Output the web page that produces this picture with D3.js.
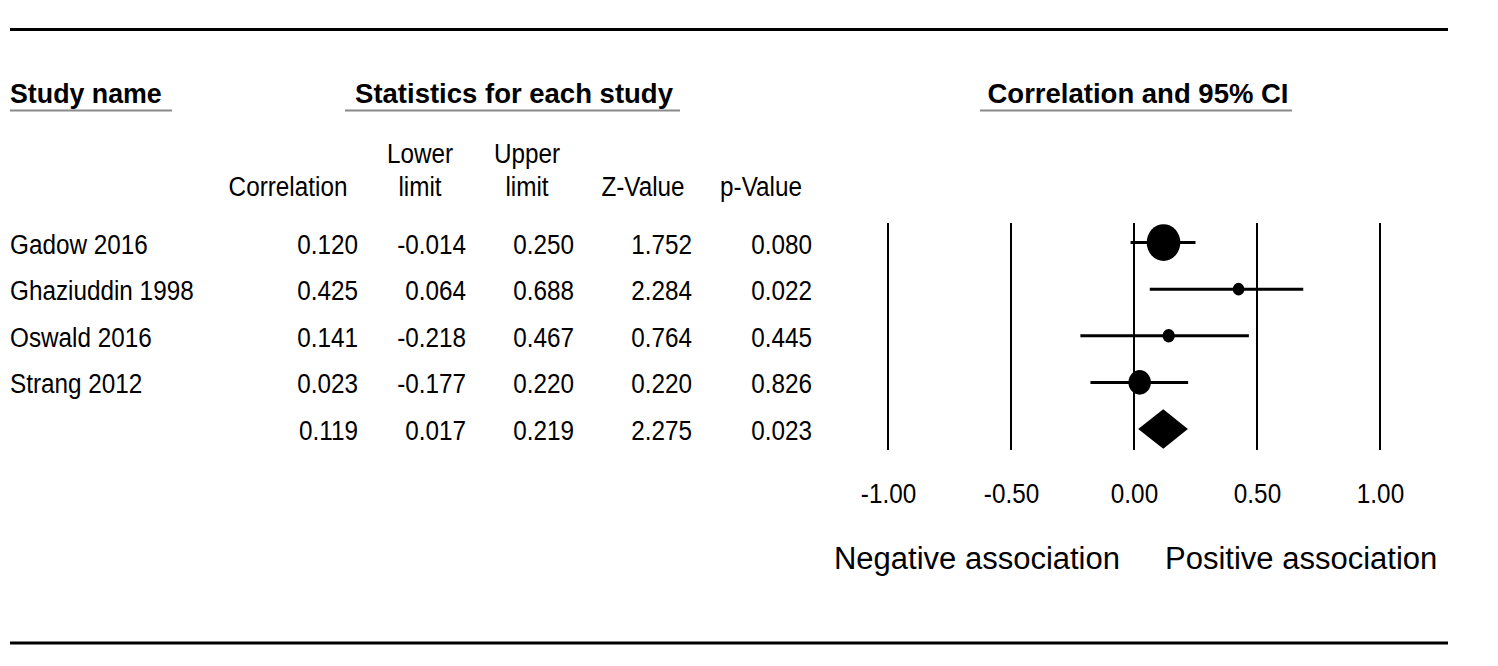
<!DOCTYPE html>
<html>
<head>
<meta charset="utf-8">
<script src="https://cdn.jsdelivr.net/npm/d3@7"></script>
<style>
  html, body { margin: 0; padding: 0; background: #fff; }
  svg { display: block; }
  text { font-family: "Liberation Sans", Arial, sans-serif; fill: #000; }
</style>
</head>
<body>
<svg id="chart" width="1498" height="666"></svg>
<script>
// ---- data ----
const studies = ["Gadow 2016", "Ghaziuddin 1998", "Oswald 2016", "Strang 2012"];
const correlation = [0.120, 0.425, 0.141, 0.023];
const lowerLimit = [-0.014, 0.064, -0.218, -0.177];
const upperLimit = [0.250, 0.688, 0.467, 0.220];
const zValue = [1.752, 2.284, 0.764, 0.220];
const pValue = [0.080, 0.022, 0.445, 0.826];
const weights = [58.8, 7.0, 8.0, 26.2];           // relative weight (%)
const summaryStats = [0.119, 0.017, 0.219, 2.275, 0.023]; // corr, lower, upper, z, p
const axisTicks = [-1.00, -0.50, 0.00, 0.50, 1.00];
const colHeaders = [["Correlation"], ["Lower", "limit"], ["Upper", "limit"], ["Z-Value"], ["p-Value"]];

// ---- layout ----
const svg = d3.select("#chart");
const SX = 0.9;          // condensed text factor
const FS = 27;
const loc = d3.formatLocale({decimal: ".", thousands: ",", grouping: [3], currency: ["", ""], minus: "-"});
const fmt = loc.format(".3f");
const fmt2 = loc.format(".2f");

const x = d3.scaleLinear().domain([-1, 1]).range([888, 1380]);
const y = d3.scalePoint().domain(d3.range(5)).range([242.5, 429]);
const r = d3.scaleSqrt().domain([0, d3.max(weights)]).range([0, 17.5]);

function ctext(sel, tx, ty, str, anchor, size, sx) {
  return sel.append("text")
    .attr("transform", `translate(${tx},${ty}) scale(${sx || SX},1)`)
    .attr("text-anchor", anchor || "start")
    .attr("font-size", size || FS)
    .text(str);
}

// rules
svg.append("line").attr("x1", 10).attr("x2", 1448).attr("y1", 29.5).attr("y2", 29.5)
  .attr("stroke", "#000").attr("stroke-width", 3);
svg.append("line").attr("x1", 10).attr("x2", 1448).attr("y1", 643).attr("y2", 643)
  .attr("stroke", "#000").attr("stroke-width", 3);

// bold section headers
const heads = [
  {t: "Study name", x: 10, anchor: "start", u: [10, 172]},
  {t: "Statistics for each study", x: 514, anchor: "middle", u: [345, 680]},
  {t: "Correlation and 95% CI", x: 1138, anchor: "middle", u: [980, 1292]}
];
heads.forEach(h => {
  ctext(svg, h.x, 103, h.t, h.anchor, 28.5, h.x === 10 ? 0.94 : 0.965).attr("font-weight", "bold");
  svg.append("line").attr("x1", h.u[0]).attr("x2", h.u[1]).attr("y1", 110.5).attr("y2", 110.5)
    .attr("stroke", "#8a8a8a").attr("stroke-width", 2);
});

// column headers
const colRight = [358, 466, 574, 692, 812];
const colCenter = [288, 420, 527, 643, 761];
colHeaders.forEach((lines, i) => {
  lines.forEach((ln, j) => {
    const yy = lines.length === 2 && j === 0 ? 163 : 196;
    ctext(svg, colCenter[i], yy, ln, "middle");
  });
});

// study rows
const cols = [correlation, lowerLimit, upperLimit, zValue, pValue];
studies.forEach((s, i) => {
  ctext(svg, 10, y(i) + 11, s, "start");
  cols.forEach((arr, c) => ctext(svg, colRight[c], y(i) + 11, fmt(arr[i]), "end"));
});
summaryStats.forEach((v, c) => ctext(svg, colRight[c], y(4) + 11, fmt(v), "end"));

// forest plot reference lines
svg.append("g").selectAll("line").data(axisTicks).join("line")
  .attr("x1", d => x(d)).attr("x2", d => x(d))
  .attr("y1", 223).attr("y2", 450)
  .attr("stroke", "#000").attr("stroke-width", 2);

// CIs
const g = svg.append("g");
g.selectAll("line.ci").data(studies).join("line").attr("class", "ci")
  .attr("x1", (d, i) => x(lowerLimit[i])).attr("x2", (d, i) => x(upperLimit[i]))
  .attr("y1", (d, i) => y(i)).attr("y2", (d, i) => y(i))
  .attr("stroke", "#000").attr("stroke-width", 3);
g.selectAll("ellipse").data(studies).join("ellipse")
  .attr("cx", (d, i) => x(correlation[i])).attr("cy", (d, i) => y(i))
  .attr("rx", (d, i) => r(weights[i]) * 0.96).attr("ry", (d, i) => r(weights[i]) * 1.05)
  .attr("fill", "#000");

// summary diamond
const dy = y(4), dh = 19.7;
g.append("path")
  .attr("d", `M${x(summaryStats[1])},${dy} L${x(summaryStats[0])},${dy - dh} L${x(summaryStats[2])},${dy} L${x(summaryStats[0])},${dy + dh} Z`)
  .attr("fill", "#000");

// axis labels
const axis = d3.axisBottom(x).tickValues(axisTicks).tickSize(0).tickPadding(0).tickFormat(fmt2);
const ag = svg.append("g").attr("transform", "translate(0,503)").call(axis);
ag.select(".domain").remove();
ag.selectAll("text").attr("font-size", FS).attr("fill", "#000")
  .attr("font-family", '"Liberation Sans", Arial, sans-serif')
  .attr("transform", `scale(${SX},1)`).attr("y", 0).attr("dy", 0);

// association labels
svg.append("text").attr("x", 1120).attr("y", 569).attr("text-anchor", "end")
  .attr("font-size", 31).text("Negative association");
svg.append("text").attr("x", 1165).attr("y", 569).attr("text-anchor", "start")
  .attr("font-size", 31).text("Positive association");
</script>
</body>
</html>
